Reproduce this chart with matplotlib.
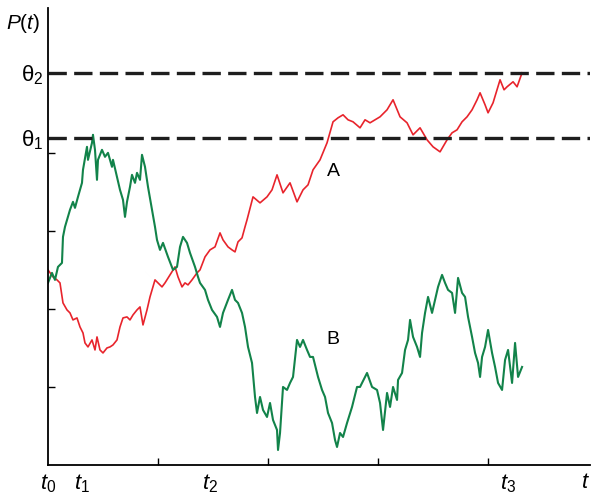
import matplotlib.pyplot as plt

plt.rcParams['font.family'] = ['Liberation Sans', 'DejaVu Sans']
plt.rcParams['mathtext.fontset'] = 'custom'
plt.rcParams['mathtext.rm'] = 'Liberation Sans'
plt.rcParams['mathtext.it'] = 'Liberation Sans:italic'

# trajectory A (red): time / decision variable
a_t = [0, 5, 9, 12, 15, 19, 22, 25, 29, 32, 35, 37, 40, 44, 47, 49, 52, 55, 59, 62,
       65, 69, 72, 75, 79, 82, 85, 89, 92, 95, 99, 102, 107, 110, 114, 117, 122, 127,
       130, 134, 137, 140, 144, 149, 152, 157, 162, 167, 172, 175, 180, 184, 187, 190,
       194, 197, 199, 205, 212, 219, 224, 229, 235, 242, 249, 255, 260, 265, 272, 279,
       285, 290, 295, 300, 305, 312, 317, 322, 327, 332, 339, 345, 352, 359, 365, 372,
       379, 385, 392, 399, 404, 409, 414, 419, 424, 429, 432, 437, 440, 445, 452, 456,
       459, 465, 469, 474]
a_p = [195, 188, 185, 182, 162, 155, 152, 145, 147, 138, 132, 122, 118, 125, 115, 128,
       115, 112, 117, 118, 120, 125, 138, 147, 148, 145, 150, 155, 158, 140, 155, 168,
       185, 182, 178, 182, 190, 198, 188, 178, 182, 180, 185, 192, 195, 208, 215, 218,
       232, 225, 218, 215, 213, 223, 227, 238, 245, 268, 262, 268, 275, 290, 272, 282,
       263, 275, 280, 295, 305, 322, 343, 347, 350, 345, 343, 337, 345, 342, 345, 348,
       355, 365, 348, 342, 330, 337, 325, 318, 313, 325, 332, 335, 343, 348, 355, 365,
       372, 360, 352, 362, 385, 375, 378, 383, 378, 392]

# trajectory B (green)
b_t = [0, 4, 7, 10, 14, 15, 17, 22, 25, 27, 30, 34, 35, 39, 40, 44, 45, 47, 49, 50,
       54, 57, 60, 64, 65, 69, 72, 75, 77, 79, 82, 84, 87, 89, 92, 94, 97, 100, 104, 107,
       109, 112, 115, 120, 125, 129, 132, 135, 139, 142, 147, 150, 152, 157, 160, 164,
       169, 172, 175, 180, 184, 187, 190, 194, 197, 200, 204, 207, 209, 212, 215, 219,
       222, 225, 229, 230, 232, 235, 239, 242, 245, 249, 252, 255, 259, 262, 265, 270,
       274, 277, 280, 284, 287, 289, 292, 295, 299, 304, 309, 312, 319, 324, 329, 332,
       335, 339, 342, 345, 349, 350, 354, 357, 360, 362, 365, 369, 372, 374, 377, 380,
       384, 387, 390, 394, 397, 400, 404, 407, 410, 414, 417, 420, 424, 427, 430, 432,
       434, 437, 440, 444, 447, 450, 454, 457, 460, 464, 467, 470, 474]
b_p = [182, 192, 185, 198, 202, 228, 238, 255, 263, 257, 268, 282, 295, 318, 305, 322,
       330, 315, 285, 305, 315, 308, 312, 298, 305, 288, 275, 265, 248, 263, 278, 290,
       282, 292, 285, 310, 298, 278, 255, 238, 225, 215, 222, 208, 195, 198, 218, 228,
       222, 212, 198, 188, 182, 175, 165, 155, 148, 138, 152, 165, 175, 165, 162, 152,
       138, 118, 102, 68, 52, 68, 55, 48, 62, 45, 35, 15, 32, 78, 75, 82, 88, 125, 118,
       125, 115, 108, 108, 88, 75, 68, 52, 42, 25, 18, 32, 28, 42, 58, 78, 78, 92, 78,
       75, 62, 35, 72, 58, 78, 65, 85, 92, 115, 125, 145, 128, 118, 108, 132, 152, 168,
       152, 165, 178, 190, 182, 175, 172, 152, 187, 172, 168, 148, 128, 112, 102, 88,
       108, 118, 135, 112, 98, 82, 75, 105, 115, 82, 122, 88, 98]

theta = [327, 392]
theta_labels = ['θ$_1$', 'θ$_2$']
t_marks = [0, 34, 162, 460, 537]
t_labels = ['$t_0$', '$t_1$', '$t_2$', '$t_3$', '$t$']

fig = plt.figure(figsize=(5.99, 4.97), dpi=100)
ax = fig.add_axes([0.0801, 0.0644, 0.905, 0.92])

ax.plot(a_t, a_p, color='#e8242c', lw=1.2)
ax.plot(b_t, b_p, color='#12834a', lw=1.5)
for th in theta:
    ax.axhline(th, color='#1e1e1e', lw=2.4, linestyle=(0, (5.5, 2.2)))

ax.text(285, 293, 'A', fontsize=14, ha='center', va='center')
ax.text(285, 125, 'B', fontsize=14, ha='center', va='center')

ax.set_xlim(0, 542)
ax.set_ylim(0, 457)
for s in ['top', 'right']:
    ax.spines[s].set_visible(False)
for s in ['left', 'bottom']:
    ax.spines[s].set_linewidth(1.3)

ax.set_xticks([110, 220, 330, 440])
ax.set_xticklabels([])
ax.set_xticks(t_marks, minor=True)
ax.set_xticklabels(t_labels, minor=True, fontsize=16)
ax.set_yticks([78, 156, 234, 312])
ax.set_yticklabels([])
ax.set_yticks(theta, minor=True)
ax.set_yticklabels(theta_labels, minor=True, fontsize=16)
ax.tick_params(which='major', direction='in', length=5, width=1)
ax.tick_params(axis='x', which='minor', length=0, pad=5)
ax.tick_params(axis='y', which='minor', length=0, pad=3)
ax.text(-8, 441, '$P(t)$', fontsize=15, ha='right', va='center')

fig.savefig('out.png', dpi=100)
